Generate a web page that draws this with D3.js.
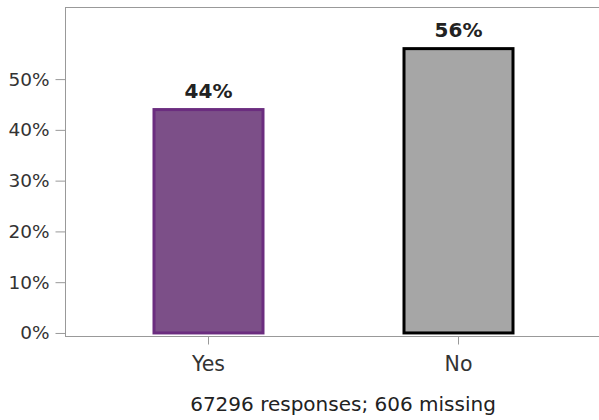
<!DOCTYPE html>
<html><head><meta charset="utf-8">
<script src="https://cdn.jsdelivr.net/npm/d3@7"></script>
<style>body{margin:0;background:#fff}svg{display:block}</style>
</head><body>
<script>
const categories = ["Yes", "No"];
const values = [0.44, 0.56];
const valueLabels = ["44%", "56%"];
const yTicks = [0, 0.1, 0.2, 0.3, 0.4, 0.5];
const footer = "67296 responses; 606 missing";
const fills = ["#7c4f88", "#a6a6a6"];
const strokes = ["#6b2d7f", "#000000"];

const W = 599, H = 420;
const svg = d3.select("body").append("svg").attr("width", W).attr("height", H);
const font = "DejaVu Sans, sans-serif";

const y = d3.scaleLinear().domain([-0.006, 0.642]).range([336, 7]);
const x = d3.scaleBand().domain(categories).range([65, 602]).paddingInner(0.564).paddingOuter(0.356);

// frame lines
svg.append("line").attr("x1", 65).attr("x2", W).attr("y1", 7.5).attr("y2", 7.5).attr("stroke", "#999");
svg.append("line").attr("x1", 65).attr("x2", W).attr("y1", 336.5).attr("y2", 336.5).attr("stroke", "#999");

const yAxis = svg.append("g").attr("transform", "translate(65.5,0)")
  .call(d3.axisLeft(y).tickValues(yTicks).tickFormat(d3.format(".0%")).tickSize(10).tickPadding(6));
yAxis.select(".domain").attr("stroke", "#999").attr("d", `M0,${y.range()[1]}V${y.range()[0]}`);
yAxis.selectAll(".tick line").attr("stroke", "#999");
yAxis.selectAll(".tick text").attr("font-family", font).attr("font-size", 18.5).attr("fill", "#333");

const xAxis = svg.append("g").attr("transform", "translate(0,336.5)")
  .call(d3.axisBottom(x).tickSize(8).tickPadding(12));
xAxis.select(".domain").remove();
xAxis.selectAll(".tick line").attr("stroke", "#999");
xAxis.selectAll(".tick text").attr("font-family", font).attr("font-size", 20.5).attr("fill", "#333");

svg.selectAll("rect.bar").data(categories).join("rect").attr("class", "bar")
  .attr("x", d => x(d)).attr("width", x.bandwidth())
  .attr("y", (d, i) => y(values[i])).attr("height", (d, i) => y(0) - y(values[i]))
  .attr("fill", (d, i) => fills[i]).attr("stroke", (d, i) => strokes[i]).attr("stroke-width", 3);

svg.selectAll("text.vl").data(categories).join("text").attr("class", "vl")
  .attr("x", d => x(d) + x.bandwidth() / 2).attr("y", (d, i) => y(values[i]) - 12)
  .attr("text-anchor", "middle").attr("font-family", font).attr("font-weight", "bold")
  .attr("font-size", 20).attr("fill", "#222").text((d, i) => valueLabels[i]);

svg.append("text").attr("x", 343).attr("y", 411).attr("text-anchor", "middle")
  .attr("font-family", font).attr("font-size", 20).attr("fill", "#222").text(footer);
</script>
</body></html>
